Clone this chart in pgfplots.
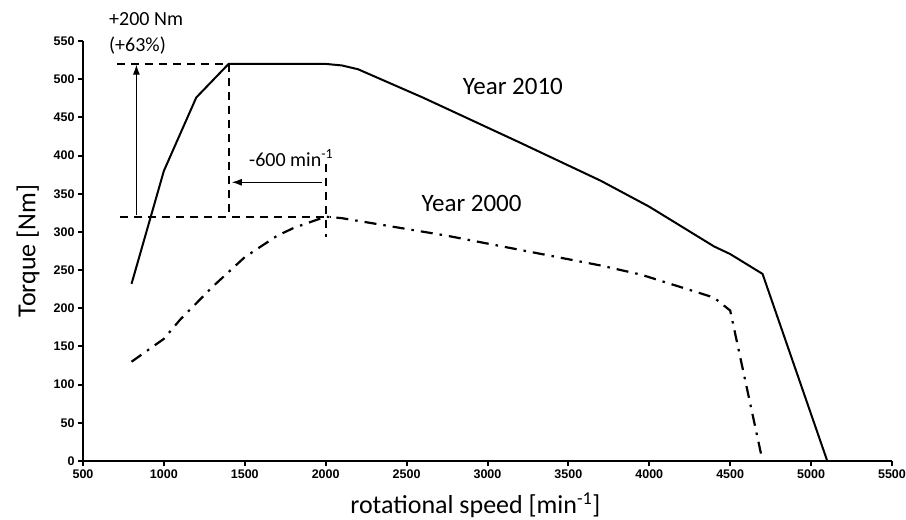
\documentclass[border=0pt]{standalone}
\usepackage{pgfplots}
\pgfplotsset{compat=1.18}
\usepackage{fontspec}
\setmainfont{Carlito}
\newfontfamily\tickfont{Liberation Sans}
\usetikzlibrary{arrows.meta}

\begin{document}
\begin{tikzpicture}
\begin{axis}[
    scale only axis,
    width=809pt, height=420pt,
    xmin=500, xmax=5500, ymin=0, ymax=550,
    xtick distance=500, ytick distance=50,
    axis x line=bottom, axis y line=left,
    axis line style={line width=2pt, -},
    tick align=outside, major tick length=5pt,
    every tick/.style={line width=2pt, black},
    /pgf/number format/assume math mode=true,
    /pgf/number format/set thousands separator={},
    ticklabel style={font=\tickfont\bfseries\fontsize{12.5}{13}\selectfont},
    xlabel={rotational speed [min\textsuperscript{-1}]},
    ylabel={Torque [Nm]},
    label style={font=\fontsize{26}{28}\selectfont},
    xlabel style={at={(axis description cs:0.485,0)}, yshift=-44pt, anchor=center},
    ylabel style={at={(axis description cs:-0.068,0.5)}, anchor=center},
    clip=false,
]
% Year 2010
\addplot[black, line width=2pt] coordinates {
 (800,232) (1000,380) (1200,476) (1400,520) (2000,520) (2100,518) (2200,513)
 (2600,476) (3200,417) (3700,367) (4000,333) (4400,281) (4500,271) (4700,245) (5100,0)
};
% Year 2000
\addplot[black, line width=2.2pt, dash pattern=on 12pt off 7pt on 2.5pt off 7pt] coordinates {
 (800,130) (1000,160) (1100,185) (1300,228) (1500,267) (1700,295) (1800,305)
 (2000,320) (2100,318) (2750,295) (3700,256) (3950,244) (4400,214) (4500,197) (4700,0)
};
% guide lines
\addplot[black, line width=1.8pt, dash pattern=on 8pt off 6pt] coordinates {(710,520) (1400,520)};
\addplot[black, line width=1.8pt, dash pattern=on 8pt off 6pt] coordinates {(1400,520) (1400,322)};
\addplot[black, line width=1.8pt, dash pattern=on 8pt off 6pt] coordinates {(730,320) (2030,320)};
\addplot[black, line width=1.8pt, dash pattern=on 8pt off 6pt] coordinates {(2000,389) (2000,293)};
% arrows
\addplot[black, line width=1pt, -{Latex[length=10pt,width=7pt]}] coordinates {(830,322) (830,519)};
\addplot[black, line width=1pt, -{Latex[length=10pt,width=7pt]}] coordinates {(1975,365) (1420,365)};
% texts
\node[anchor=west, font=\fontsize{20}{22}\selectfont] at (axis cs:640,579) {+200 Nm};
\node[anchor=west, font=\fontsize{20}{22}\selectfont] at (axis cs:640,544) {(+63\%)};
\node[anchor=west, font=\fontsize{20}{22}\selectfont] at (axis cs:1505,397) {-600 min\textsuperscript{-1}};
\node[font=\fontsize{25}{28}\selectfont] at (axis cs:3157,490) {Year 2010};
\node[font=\fontsize{25}{28}\selectfont] at (axis cs:2902,337) {Year 2000};
\end{axis}
\pgfresetboundingbox
\path[use as bounding box] (-83pt,-59pt) rectangle (823pt,461pt);
\end{tikzpicture}
\end{document}
